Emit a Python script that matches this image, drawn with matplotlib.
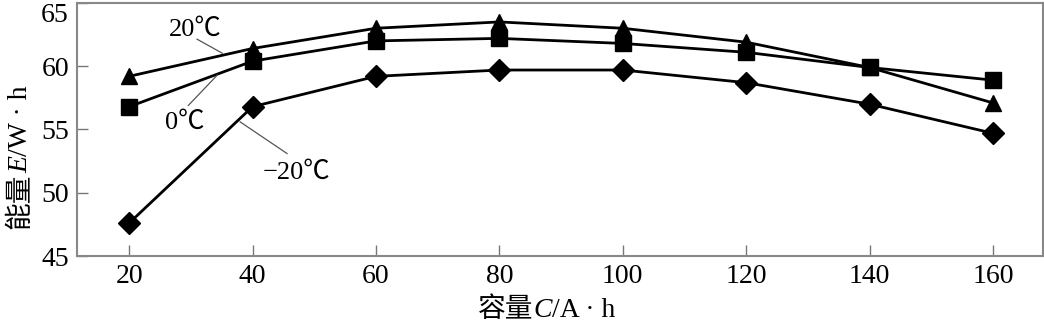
import matplotlib
matplotlib.use('Agg')
import matplotlib.pyplot as plt

plt.rcParams['font.family'] = ['Liberation Serif', 'Noto Sans CJK SC', 'DejaVu Sans']

# Data
capacity = [20, 40, 60, 80, 100, 120, 140, 160]
e_20c = [59.2, 61.4, 63.0, 63.5, 63.0, 61.9, 59.9, 57.1]
e_0c = [56.8, 60.4, 62.0, 62.2, 61.8, 61.1, 59.9, 58.9]
e_m20c = [47.6, 56.8, 59.2, 59.7, 59.7, 58.7, 57.0, 54.7]
x_ticks = [20, 40, 60, 80, 100, 120, 140, 160]
y_ticks = [45, 50, 55, 60, 65]
x_label = [('容量', 'normal'), ('C', 'italic'), ('/A · h', 'normal')]
y_label = [('能量', 'normal'), ('E', 'italic'), ('/W · h', 'normal')]

fig = plt.figure(figsize=(10.44, 3.27), dpi=100)
ax = fig.add_axes([0.074, 0.217, 0.925, 0.774])

ax.plot(capacity, e_20c, color='black', linewidth=2, marker='^', markersize=12)
ax.plot(capacity, e_0c, color='black', linewidth=2, marker='s', markersize=11)
ax.plot(capacity, e_m20c, color='black', linewidth=2, marker='D', markersize=11)

# Labels with leader lines
ax.text(30.7, 62.85, '20℃', fontsize=19, ha='center', va='center')
ax.plot([31.0, 35.1], [62.14, 61.03], color='#555555', linewidth=0.9)
ax.text(29.1, 55.5, '0℃', fontsize=19, ha='center', va='center')
ax.plot([29.6, 34.3], [56.9, 59.3], color='#555555', linewidth=0.9)
ax.text(47.2, 51.6, '−20℃', fontsize=19, ha='center', va='center')
ax.plot([45.6, 38.0], [53.1, 55.6], color='#555555', linewidth=0.9)

ax.set_xlim(11.6, 168.1)
ax.set_ylim(45, 65)
ax.set_xticks(x_ticks)
ax.set_yticks(y_ticks)
ax.tick_params(direction='in', length=8, width=1, color='#777777', labelsize=20, pad=6)
ax.get_yticklabels()[-1].set_verticalalignment('top')
for s in ax.spines.values():
    s.set_color('#888888')
    s.set_linewidth(1.5)

# Axis titles pieced together so the symbol can be italic
prev = fig.text(0.458, 0.012, x_label[0][0], fontsize=20, style=x_label[0][1],
                ha='left', va='bottom')
for txt, st in x_label[1:]:
    prev = ax.annotate(txt, xy=(1, 0), xycoords=prev, fontsize=20, style=st,
                       ha='left', va='bottom', annotation_clip=False)

prev = fig.text(0.032, 0.30, y_label[0][0], fontsize=20, style=y_label[0][1],
                rotation=90, ha='right', va='bottom')
for txt, st in y_label[1:]:
    prev = ax.annotate(txt, xy=(1, 1), xycoords=prev, fontsize=20, style=st,
                       rotation=90, ha='right', va='bottom', annotation_clip=False)

fig.savefig('out.png', dpi=100)
